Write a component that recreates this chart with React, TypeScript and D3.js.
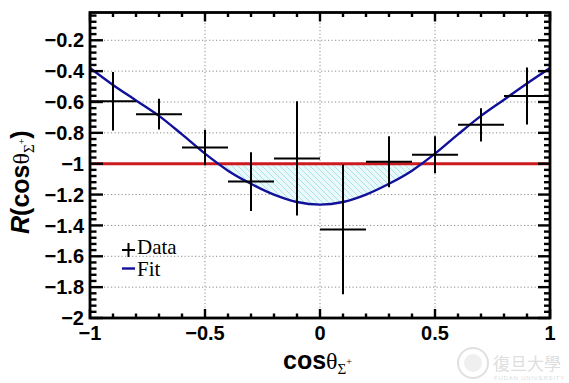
import React from 'react';
import * as d3 from 'd3';

const binCenters = [-0.9, -0.7, -0.5, -0.3, -0.1, 0.1, 0.3, 0.5, 0.7, 0.9];
const binHalfWidth = 0.1;
const dataValues = [-0.595, -0.679, -0.895, -1.116, -0.966, -1.426, -0.987, -0.942, -0.748, -0.561];
const dataErrors = [0.19, 0.1, 0.115, 0.19, 0.37, 0.42, 0.165, 0.12, 0.108, 0.185];

const fitX = [-1, -0.9, -0.8, -0.7, -0.6, -0.5, -0.4, -0.3, -0.2, -0.1, 0, 0.1, 0.2, 0.3, 0.4, 0.5, 0.6, 0.7, 0.8, 0.9, 1];
const fitY = [-0.38, -0.49, -0.59, -0.69, -0.81, -0.935, -1.045, -1.13, -1.2, -1.248, -1.265, -1.248, -1.2, -1.13, -1.045, -0.935, -0.81, -0.69, -0.585, -0.48, -0.38];

const refLevel = -1;

const xTickValues = [-1, -0.5, 0, 0.5, 1];
const xTickLabels = ['\u22121', '\u22120.5', '0', '0.5', '1'];
const yTickValues = [-2, -1.8, -1.6, -1.4, -1.2, -1, -0.8, -0.6, -0.4, -0.2];
const yTickLabels = ['\u22122', '\u22121.8', '\u22121.6', '\u22121.4', '\u22121.2', '\u22121', '\u22120.8', '\u22120.6', '\u22120.4', '\u22120.2'];

const W = 569;
const H = 383;
const L = 90, R = 550, T = 12.5, B = 318;

export default function App() {
  const x = d3.scaleLinear().domain([-1, 1]).range([L, R]);
  const y = d3.scaleLinear().domain([-2, -0.02]).range([B, T]);

  const fitPts = fitX.map((v, i) => [v, fitY[i]] as [number, number]);
  const line = d3.line<[number, number]>().x(d => x(d[0])).y(d => y(d[1])).curve(d3.curveCatmullRom.alpha(0.5));
  const area = d3.area<[number, number]>().x(d => x(d[0])).y0(() => y(refLevel)).y1(d => y(d[1])).curve(d3.curveCatmullRom.alpha(0.5));

  const xMinor = d3.range(-1, 1.0001, 0.1);
  const yMinor = d3.range(-2, -0.0199, 0.04);

  const frameStroke = 2.8;
  const font = "'Liberation Sans', Arial, Helvetica, sans-serif";
  const serif = "'Liberation Serif', 'Times New Roman', serif";

  return (
    <svg width={W} height={H} style={{ position: 'absolute', left: 0, top: 0, background: '#fff' }}>
      <defs>
        <pattern id="hatch" patternUnits="userSpaceOnUse" width="6" height="6">
          <rect width="6" height="6" fill="#eafafb" />
          <path d="M-1,-1 L7,7 M-4,2 L2,8 M4,-2 L8,2" stroke="#a9e2ea" strokeWidth="1" />
        </pattern>
        <clipPath id="below">
          <rect x={L} y={y(refLevel)} width={R - L} height={B - y(refLevel)} />
        </clipPath>
        <clipPath id="plot">
          <rect x={L} y={T} width={R - L} height={B - T} />
        </clipPath>
      </defs>

      {/* grid */}
      {yTickValues.filter(v => v > -2).map(v => (
        <line key={'gy' + v} x1={L} x2={R} y1={y(v)} y2={y(v)} stroke="#8a8a8a" strokeWidth={1} strokeDasharray="1.2,2.3" />
      ))}
      {xTickValues.filter(v => v > -1 && v < 1).map(v => (
        <line key={'gx' + v} x1={x(v)} x2={x(v)} y1={T} y2={B} stroke="#8a8a8a" strokeWidth={1} strokeDasharray="1.2,2.3" />
      ))}

      {/* hatched region */}
      <path d={area(fitPts) || ''} fill="url(#hatch)" clipPath="url(#below)" />

      {/* red reference line */}
      <line x1={L} x2={R} y1={y(refLevel)} y2={y(refLevel)} stroke="#cc1a1f" strokeWidth={3} />

      {/* fit curve */}
      <path d={line(fitPts) || ''} fill="none" stroke="#10109a" strokeWidth={2.4} clipPath="url(#plot)" />

      {/* data */}
      {binCenters.map((c, i) => (
        <g key={'d' + i} stroke="#000" strokeWidth={2}>
          <line x1={x(c - binHalfWidth)} x2={x(c + binHalfWidth)} y1={y(dataValues[i])} y2={y(dataValues[i])} />
          <line x1={x(c)} x2={x(c)} y1={y(dataValues[i] + dataErrors[i])} y2={y(dataValues[i] - dataErrors[i])} />
        </g>
      ))}

      {/* ticks */}
      <g stroke="#000" strokeWidth={2.4}>
        {xMinor.map((v, i) => {
          const major = Math.abs(v * 2 - Math.round(v * 2)) < 1e-6;
          const len = major ? 9 : 4.5;
          return (
            <g key={'xt' + i}>
              <line x1={x(v)} x2={x(v)} y1={B} y2={B - len} />
              <line x1={x(v)} x2={x(v)} y1={T} y2={T + len} />
            </g>
          );
        })}
        {yMinor.map((v, i) => {
          const major = Math.abs(v * 5 - Math.round(v * 5)) < 1e-6;
          const lenL = major ? 13 : 6.5;
          const lenR = major ? 12 : 6;
          return (
            <g key={'yt' + i}>
              <line x1={L} x2={L + lenL} y1={y(v)} y2={y(v)} />
              <line x1={R} x2={R - lenR} y1={y(v)} y2={y(v)} />
            </g>
          );
        })}
      </g>

      {/* frame */}
      <rect x={L} y={T} width={R - L} height={B - T} fill="none" stroke="#000" strokeWidth={frameStroke} />

      {/* tick labels */}
      {yTickValues.map((v, i) => (
        <text key={'yl' + i} x={84} y={y(v)} dy="0.36em" textAnchor="end" fontFamily={font} fontWeight="bold" fontSize={20} fill="#000">{yTickLabels[i]}</text>
      ))}
      {xTickValues.map((v, i) => (
        <text key={'xl' + i} x={x(v)} y={340} textAnchor="middle" fontFamily={font} fontWeight="bold" fontSize={20} fill="#000">{xTickLabels[i]}</text>
      ))}

      {/* x title */}
      <text x={283} y={369} fontFamily={font} fontSize={25} fill="#000">
        <tspan fontWeight="bold">cos</tspan>
        <tspan fontFamily={serif} fontSize={24}>θ</tspan>
        <tspan fontFamily={serif} fontSize={15} dy={5}>Σ</tspan>
        <tspan fontFamily={serif} fontSize={10} dy={-9}>+</tspan>
      </text>

      {/* y title */}
      <text transform="translate(29,234) rotate(-90)" fontFamily={font} fontSize={25} fill="#000">
        <tspan fontWeight="bold" fontStyle="italic">R</tspan>
        <tspan fontWeight="bold">(cos</tspan>
        <tspan fontFamily={serif} fontSize={24}>θ</tspan>
        <tspan fontFamily={serif} fontSize={15} dy={5}>Σ</tspan>
        <tspan fontFamily={serif} fontSize={10} dy={-9}>+</tspan>
        <tspan fontWeight="bold" dy={4}>)</tspan>
      </text>

      {/* legend */}
      <g>
        <line x1={122} x2={135} y1={250} y2={250} stroke="#000" strokeWidth={2} />
        <line x1={128.5} x2={128.5} y1={243} y2={257} stroke="#000" strokeWidth={2} />
        <text x={137} y={254} fontFamily={serif} fontSize={21} fill="#000">Data</text>
        <line x1={122} x2={135} y1={268.5} y2={268.5} stroke="#10109a" strokeWidth={2.4} />
        <text x={137} y={276} fontFamily={serif} fontSize={21} fill="#000">Fit</text>
      </g>

      {/* watermark */}
      <g opacity={0.55}>
        <circle cx={473} cy={363} r={15} fill="none" stroke="#c8c8c8" strokeWidth={2} />
        <circle cx={473} cy={363} r={9} fill="#e3e3e3" />
        <text x={493} y={370} fontFamily="'Noto Sans CJK TC', 'Noto Sans CJK SC', sans-serif" fontSize={17} fill="#c4c4c4">復旦大學</text>
        <text x={494} y={379.5} fontFamily={font} fontSize={6} fill="#c4c4c4" letterSpacing={0.8}>FUDAN UNIVERSITY</text>
      </g>
    </svg>
  );
}
